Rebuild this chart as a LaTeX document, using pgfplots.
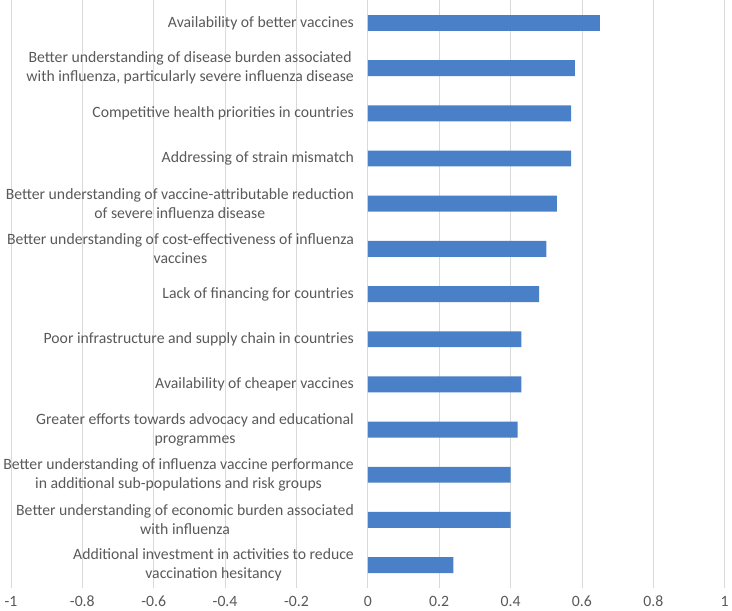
\documentclass[border=0pt]{standalone}
\usepackage{pgfplots}
\pgfplotsset{compat=1.18}
\usepackage{fontspec}
\setmainfont{Carlito}
\definecolor{barblue}{HTML}{4A80C8}
\definecolor{labelgray}{HTML}{595959}
\definecolor{gridgray}{HTML}{D9D9D9}
\begin{document}
\begin{tikzpicture}
\begin{axis}[
    scale only axis,
    width=717pt, height=590pt,
    xbar, bar width=16pt,
    xmin=-1, xmax=1,
    ymin=0.5, ymax=13.5, y dir=reverse,
    xtick={-1,-0.8,-0.6,-0.4,-0.2,0,0.2,0.4,0.6,0.8,1},
    xticklabels={-1,-0.8,-0.6,-0.4,-0.2,0,0.2,0.4,0.6,0.8,1},
    ytick={1,2,3,4,5,6,7,8,9,10,11,12,13},
    yticklabels={
        {Availability of better vaccines},
        {Better understanding of disease burden associated\\with influenza, particularly severe influenza disease},
        {Competitive health priorities in countries},
        {Addressing of strain mismatch},
        {Better understanding of vaccine-attributable reduction\\of severe influenza disease},
        {Better understanding of cost-effectiveness of influenza\\vaccines},
        {Lack of financing for countries},
        {Poor infrastructure and supply chain in countries},
        {Availability of cheaper vaccines},
        {Greater efforts towards advocacy and educational\\programmes},
        {Better understanding of influenza vaccine performance\\in additional sub-populations and risk groups},
        {Better understanding of economic burden associated\\with influenza},
        {Additional investment in activities to reduce\\vaccination hesitancy}
    },
    xmajorgrids,
    grid style={gridgray, line width=0.75pt},
    axis line style={draw=none},
    major tick length=0pt,
    tick label style={font=\fontsize{15.8}{19}\selectfont, text=labelgray},
    yticklabel style={align=center, anchor=east, xshift=348pt},
    xticklabel style={yshift=-5pt},
]
\addplot[fill=barblue, draw=none] coordinates {
    (0.65,1)
    (0.58,2)
    (0.57,3)
    (0.57,4)
    (0.53,5)
    (0.50,6)
    (0.48,7)
    (0.43,8)
    (0.43,9)
    (0.42,10)
    (0.40,11)
    (0.40,12)
    (0.24,13)
};
\end{axis}
\end{tikzpicture}
\end{document}
